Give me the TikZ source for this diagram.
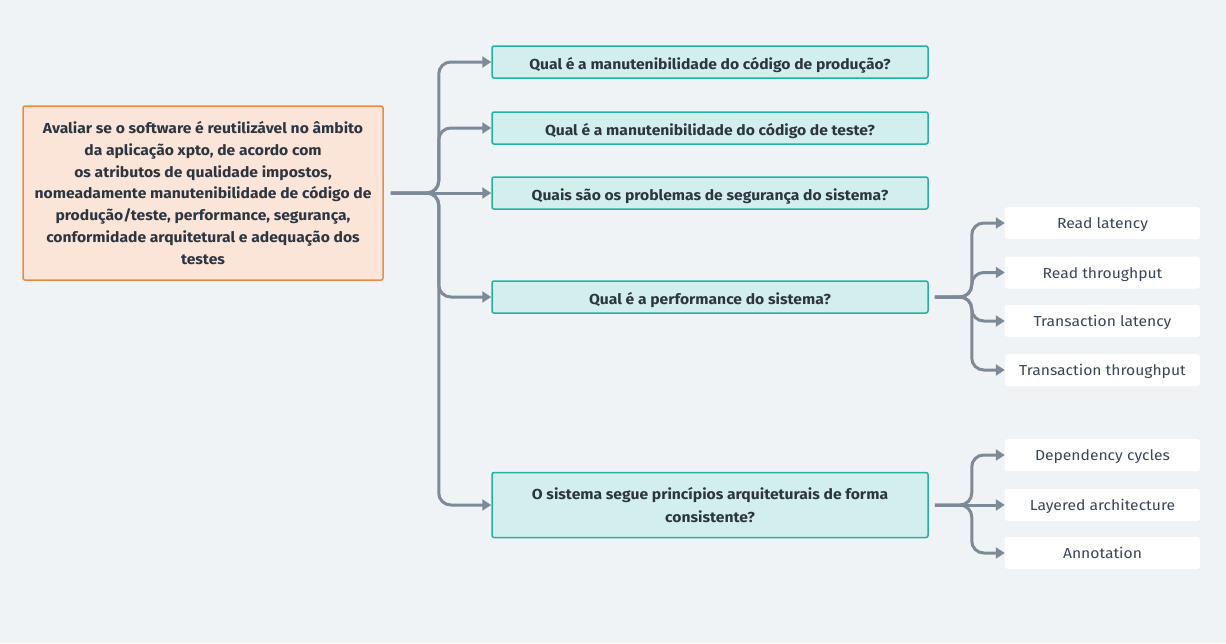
\documentclass[tikz,border=0pt]{standalone}
\usepackage{fontspec}
\setmainfont{Fira Sans}[FakeStretch=1.08]
\usepackage{xcolor}
\usepackage{tikz}
\usetikzlibrary{calc,positioning,arrows.meta}

\definecolor{bgcol}{HTML}{F0F3F6}
\definecolor{rootfill}{HTML}{FAE5D8}
\definecolor{rootline}{HTML}{EE8A3E}
\definecolor{qfill}{HTML}{D2EFED}
\definecolor{qline}{HTML}{22B3A0}
\definecolor{wire}{HTML}{7D8A97}
\definecolor{ink}{HTML}{2C3540}
\definecolor{leafink}{HTML}{3A4555}

\begin{document}
\begin{tikzpicture}[
            x=1pt, y=-1pt,
            font=\fontsize{14.5}{21.7}\selectfont,
            rootbox/.style={draw=rootline, fill=rootfill, line width=1.5pt, rounded corners=2pt,
                    minimum width=360pt, minimum height=174pt, align=center, text=ink, font=\fontsize{14.5}{21.7}\selectfont\bfseries},
            questionbox/.style={draw=qline, fill=qfill, line width=1.5pt, rounded corners=2pt,
                    minimum width=436pt, minimum height=32pt,
                    align=center, text=ink, font=\fontsize{14.5}{22.5}\selectfont\bfseries},
            question/.style={questionbox, text height=15pt, text depth=1pt},
            leaf/.style={fill=white, rounded corners=3pt, minimum width=195pt, minimum height=32pt,
                    text height=13pt, text depth=2pt, text=leafink},
            wire/.style={draw=wire, line width=3pt, rounded corners=12pt, -{Triangle[length=9pt,width=11pt]}}
        ]

        % --- FOND ---
        \fill[bgcol] (0,0) rectangle (1226,643);
        \useasboundingbox (0,0) rectangle (1226,643);

        % --- RACINE ---
        \node[rootbox] (goal) at (203,193) {Avaliar se o software é reutilizável no âmbito\\
            da aplicação xpto, de acordo com\\
            os atributos de qualidade impostos,\\
            nomeadamente manutenibilidade de código de\\
            produção/teste, performance, segurança,\\
            conformidade arquitetural e adequação dos\\
            testes};

        % --- QUESTOES ---
        \node[question] (q1) at (710,62) {Qual é a manutenibilidade do código de produção?};
        \node[question] (q2) at (710,128) {Qual é a manutenibilidade do código de teste?};
        \node[question] (q3) at (710,193) {Quais são os problemas de segurança do sistema?};
        \node[question] (q4) at (710,297) {Qual é a performance do sistema?};
        \node[questionbox, minimum height=65pt] (q5) at (710,505) {O sistema segue princípios arquiteturais de forma\\ consistente?};

        % --- METRICAS ---
        \node[leaf] (m1) at (1102.5,223) {Read latency};
        \node[leaf] (m2) at (1102.5,272.5) {Read throughput};
        \node[leaf] (m3) at (1102.5,321) {Transaction latency};
        \node[leaf] (m4) at (1102.5,370) {Transaction throughput};
        \node[leaf] (m5) at (1102.5,455) {Dependency cycles};
        \node[leaf] (m6) at (1102.5,505) {Layered architecture};
        \node[leaf] (m7) at (1102.5,553) {Annotation};

        % --- CONNECTEURS ---
        \coordinate (gout) at ($(goal.east)+(7,0)$);
        \coordinate (gtrunk) at ($(goal.east)+(55,0)$);
        \foreach \q in {1,2,4,5} {
                \draw[wire] (gout) -- (gtrunk) -- (gtrunk |- q\q.west) -- (q\q.west);
            }
        \draw[wire] (gout) -- (q3.west);

        \coordinate (q4out) at ($(q4.east)+(6,0)$);
        \coordinate (q4trunk) at ($(q4.east)+(43,0)$);
        \foreach \m in {1,2,3,4} {
                \draw[wire] (q4out) -- (q4trunk) -- (q4trunk |- m\m.west) -- (m\m.west);
            }

        \coordinate (q5out) at ($(q5.east)+(6,0)$);
        \coordinate (q5trunk) at ($(q5.east)+(43,0)$);
        \foreach \m in {5,7} {
                \draw[wire] (q5out) -- (q5trunk) -- (q5trunk |- m\m.west) -- (m\m.west);
            }
        \draw[wire] (q5out) -- (m6.west);

    \end{tikzpicture}
\end{document}
